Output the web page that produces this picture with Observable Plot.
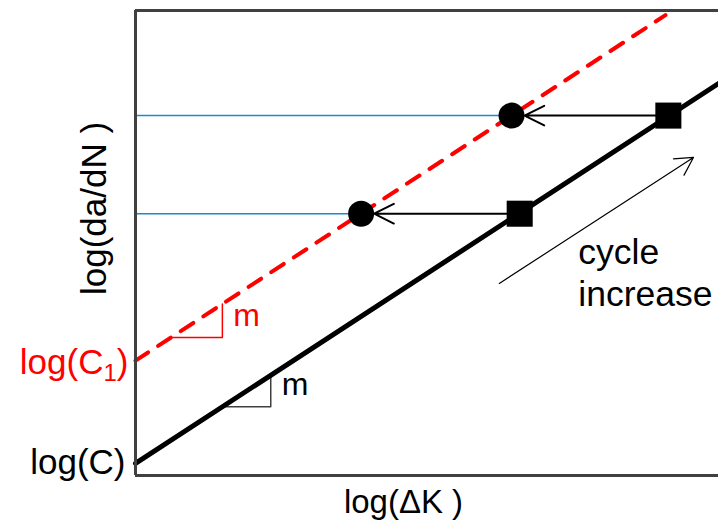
<!DOCTYPE html>
<html><head><meta charset="utf-8">
<script src="https://cdn.jsdelivr.net/npm/d3@7"></script>
<script src="https://cdn.jsdelivr.net/npm/@observablehq/plot@0.6"></script>
<style>body{margin:0;background:#fff}</style>
</head><body><div id="chart"></div>
<script>
// Paris-law schematic, abstract log units
const baseLineX = [0, 10];          // log(ΔK)
const baseLineY = [0.26, 8.43];     // log(da/dN), intercept log(C)
const shiftLineX = [0, 9.09];
const shiftLineY = [2.47, 9.90];    // intercept log(C1)
const rateLevels = [5.63, 7.74];    // da/dN levels
const squareX = [6.59, 9.14];       // ΔK on base curve
const circleX = [3.87, 6.45];       // ΔK on shifted curve
const redTriX = [0.61, 1.49, 1.49];
const redTriY = [2.97, 2.97, 3.69];
const blackTriX = [1.49, 2.32, 2.32];
const blackTriY = [1.48, 1.48, 2.155];
const cycleArrowX = [6.24, 9.57];
const cycleArrowY = [4.13, 6.84];

const xLabel = "log(ΔK )";
const yLabel = "log(da/dN )";
const cLabel = "log(C)";
const c1Label = "log(C1)";
const slopeLabel = "m";
const cycleLabel = "cycle\nincrease";

const pts = (X, Y) => X.map((x, i) => ({x, y: Y[i]}));
const levelRows = rateLevels.map((y, i) => ({y, xs: squareX[i], xc: circleX[i]}));
const mid = (a) => (a[0] + a[1]) / 2;

const chart = Plot.plot({
  width: 718, height: 522,
  marginLeft: 135, marginRight: 0, marginTop: 10, marginBottom: 47,
  x: {domain: [0, 10], axis: null},
  y: {domain: [0, 10], axis: null},
  style: {fontFamily: "'Liberation Sans', Arial, sans-serif", background: "white", color: "black"},
  marks: [
    Plot.ruleY(levelRows, {y: "y", x1: 0, x2: "xc", stroke: "#1a8ad4", strokeWidth: 1.5}),
    Plot.line(pts(redTriX, redTriY), {x: "x", y: "y", stroke: "#ff0000", strokeWidth: 1.5}),
    Plot.line(pts(blackTriX, blackTriY), {x: "x", y: "y", stroke: "#404040", strokeWidth: 1.5}),
    Plot.line(pts(baseLineX, baseLineY), {x: "x", y: "y", stroke: "black", strokeWidth: 5}),
    Plot.line(pts(shiftLineX, shiftLineY), {x: "x", y: "y", stroke: "#ff0000", strokeWidth: 4, strokeDasharray: "15,12"}),
    Plot.arrow(levelRows, {x1: "xs", x2: "xc", y1: "y", y2: "y", stroke: "black", strokeWidth: 2,
      headLength: 16.5, headAngle: 53, insetEnd: 13}),
    Plot.dot(levelRows, {x: "xc", y: "y", r: 13, fill: "black", stroke: null}),
    Plot.dot(levelRows, {x: "xs", y: "y", r: 14.7, symbol: "square", fill: "black", stroke: null}),
    Plot.arrow([0], {x1: cycleArrowX[0], y1: cycleArrowY[0], x2: cycleArrowX[1], y2: cycleArrowY[1],
      stroke: "black", strokeWidth: 1.2, headLength: 25, headAngle: 58}),
    Plot.ruleX([0], {stroke: "#404040", strokeWidth: 3}),
    Plot.ruleY([0, 10], {stroke: "#404040", strokeWidth: 3}),
    // labels
    Plot.text([cLabel], {x: 0, y: baseLineY[0], text: d => d, textAnchor: "end", lineAnchor: "middle", dx: -10, dy: -1, fontSize: 35, fill: "black"}),
    Plot.text([c1Label], {x: 0, y: shiftLineY[0], text: d => d, textAnchor: "end", lineAnchor: "middle", dx: -7, dy: 2, fontSize: 35, fill: "#ff0000"}),
    Plot.text([slopeLabel], {x: redTriX[2], y: mid([redTriY[0], redTriY[2]]), text: d => d, textAnchor: "start", lineAnchor: "middle", dx: 11, dy: -5, fontSize: 32, fill: "#ff0000"}),
    Plot.text([slopeLabel], {x: blackTriX[2], y: mid([blackTriY[0], blackTriY[2]]), text: d => d, textAnchor: "start", lineAnchor: "middle", dx: 11, dy: -6, fontSize: 32, fill: "black"}),
    Plot.text([cycleLabel], {x: mid(cycleArrowX), y: mid(cycleArrowY), text: d => d, textAnchor: "start", lineAnchor: "top", lineHeight: 1.2, dx: -18, dy: 13, fontSize: 35.5, fill: "black"}),
    Plot.text([xLabel], {frameAnchor: "bottom", text: d => d, textAnchor: "middle", lineAnchor: "top", dx: -23.5, dy: 13.6, fontSize: 33, fill: "black"}),
    Plot.text([yLabel], {frameAnchor: "left", text: d => d, rotate: -90, textAnchor: "middle", lineAnchor: "bottom", dx: -30, dy: -34.5, fontSize: 35, fill: "black"})
  ]
});
document.getElementById("chart").appendChild(chart);

// subscript for log(C1)
d3.select(chart).selectAll("text").each(function() {
  if (this.textContent === c1Label) {
    const t = d3.select(this);
    t.text(null);
    t.append("tspan").text("log(C");
    t.append("tspan").attr("font-size", 24).attr("dy", 7).text("1");
    t.append("tspan").attr("dy", -7).text(")");
  }
});
</script>
</body></html>
